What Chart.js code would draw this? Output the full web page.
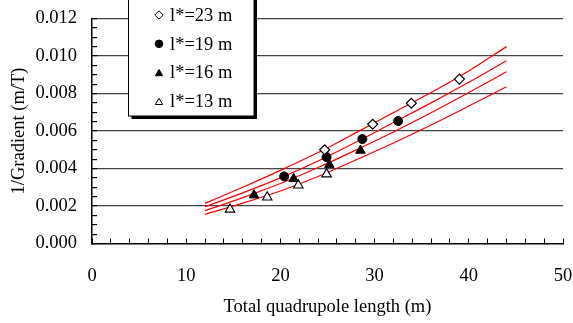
<!DOCTYPE html>
<html>
<head>
<meta charset="utf-8">
<script src="https://cdn.jsdelivr.net/npm/chart.js@4"></script>
<style>
  body { margin: 0; background: #fff; }
  canvas { display: block; }
</style>
</head>
<body>
<canvas id="myChart" width="573" height="323"></canvas>
<script>
// measured points (m, m/T)
const labels = ['l*=23 m', 'l*=19 m', 'l*=16 m', 'l*=13 m'];
const x23 = [24.7, 29.8, 33.9, 39.0];
const y23 = [0.00500, 0.00636, 0.00748, 0.00877];
const x19 = [20.4, 24.9, 28.7, 32.5];
const y19 = [0.00358, 0.00461, 0.00557, 0.00653];
const x16 = [17.2, 21.4, 25.2, 28.5];
const y16 = [0.00258, 0.00345, 0.00420, 0.00496];
const x13 = [14.65, 18.6, 21.9, 24.9];
const y13 = [0.00182, 0.00247, 0.00311, 0.00370];

// fitted curves (red)
const curveX = [12, 16, 20, 24, 28, 32, 36, 40, 44];
const curve23 = [0.00214, 0.00300, 0.00390, 0.00485, 0.00590, 0.00698, 0.00805, 0.00920, 0.01050];
const curve19 = [0.00196, 0.00270, 0.00350, 0.00440, 0.00540, 0.00645, 0.00750, 0.00860, 0.00975];
const curve16 = [0.00175, 0.00245, 0.00320, 0.00405, 0.00498, 0.00595, 0.00697, 0.00805, 0.00916];
const curve13 = [0.00156, 0.00215, 0.00280, 0.00357, 0.00445, 0.00536, 0.00632, 0.00733, 0.00836];

const FONT = "'Liberation Serif', 'Times New Roman', serif";

function pts(xs, ys) {
  return xs.map((x, i) => ({ x: x, y: ys[i] }));
}

function curve(ys) {
  return {
    data: pts(curveX, ys),
    showLine: true,
    borderColor: '#ff0000',
    borderWidth: 1.2,
    pointRadius: 0,
    tension: 0.4,
    cubicInterpolationMode: 'monotone',
    fill: false
  };
}

const markers = [
  { label: labels[0], data: pts(x23, y23), pointStyle: 'rectRot', pointRadius: 5, backgroundColor: '#fff', borderColor: '#000', borderWidth: 1.2 },
  { label: labels[1], data: pts(x19, y19), pointStyle: 'circle', pointRadius: 4.5, backgroundColor: '#000', borderColor: '#000', borderWidth: 1 },
  { label: labels[2], data: pts(x16, y16), pointStyle: 'triangle', pointRadius: 5.5, backgroundColor: '#000', borderColor: '#000', borderWidth: 1 },
  { label: labels[3], data: pts(x13, y13), pointStyle: 'triangle', pointRadius: 5.5, backgroundColor: '#fff', borderColor: '#000', borderWidth: 1.1 }
];
markers.forEach(m => { m.showLine = false; });

const isMajorY = v => Math.round(v / 0.0005) % 4 === 0;

// boxed legend with drop shadow, drawn inside the plot
const boxLegend = {
  id: 'boxLegend',
  afterDraw(chart) {
    const ctx = chart.ctx;
    const left = 128.5, right = 254, top = -5, bottom = 116;
    ctx.save();
    ctx.fillStyle = '#000';
    ctx.fillRect(left + 3, top + 3, right - left, bottom - top);
    ctx.fillStyle = '#fff';
    ctx.fillRect(left, top, right - left, bottom - top);
    ctx.strokeStyle = '#000';
    ctx.lineWidth = 1;
    ctx.strokeRect(left, top, right - left, bottom - top);
    ctx.font = '18.5px ' + FONT;
    ctx.textBaseline = 'middle';
    markers.forEach((m, i) => {
      const y = 15 + i * 28.8;
      ctx.fillStyle = m.backgroundColor;
      ctx.strokeStyle = m.borderColor;
      ctx.lineWidth = 1;
      Chart.helpers.drawPoint(ctx, { pointStyle: m.pointStyle, radius: m.pointStyle === 'circle' ? 3.8 : 4.2, rotation: 0, borderWidth: 1 }, 159, y + (m.pointStyle === 'triangle' ? 1 : 0));
      ctx.fillStyle = '#000';
      ctx.fillText(m.label, 170, y + 1);
    });
    ctx.restore();
  }
};

new Chart(document.getElementById('myChart'), {
  type: 'scatter',
  data: {
    datasets: [...markers, curve(curve23), curve(curve19), curve(curve16), curve(curve13)]
  },
  options: {
    responsive: false,
    animation: false,
    devicePixelRatio: 1,
    layout: { padding: 0 },
    plugins: { legend: { display: false }, tooltip: { enabled: false } },
    scales: {
      x: {
        type: 'linear',
        min: 0, max: 50,
        border: { color: '#000', width: 1.5 },
        grid: { drawOnChartArea: false, tickColor: '#000', tickLength: -5, lineWidth: 1 },
        ticks: {
          stepSize: 2, autoSkip: false, maxRotation: 0, padding: 27,
          color: '#000', font: { family: FONT, size: 18.5 },
          callback: v => (Math.round(v) % 10 === 0 ? String(Math.round(v)) : '')
        },
        title: { display: true, text: 'Total quadrupole length (m)', color: '#000', font: { family: FONT, size: 18.5 }, padding: { top: 0, bottom: 5 } },
        afterFit: s => { s.height = 79.5; s.paddingLeft = 0; s.paddingRight = 10; }
      },
      y: {
        type: 'linear',
        min: 0, max: 0.012,
        border: { color: '#000', width: 1.5 },
        grid: {
          color: c => (c.tick && isMajorY(c.tick.value) && c.tick.value > 0 ? '#444' : 'rgba(0,0,0,0)'),
          lineWidth: 1.2,
          tickColor: '#000', tickLength: -5
        },
        ticks: {
          stepSize: 0.0005, autoSkip: false, padding: 20,
          color: '#000', font: { family: FONT, size: 18.5 },
          callback: v => (isMajorY(v) ? v.toFixed(3) : '')
        },
        title: { display: true, text: '1/Gradient (m/T)', color: '#000', font: { family: FONT, size: 18.5 }, padding: { top: 8, bottom: 0 } },
        afterFit: s => { s.width = 92; s.paddingTop = 18.5; s.paddingBottom = 0; }
      }
    }
  },
  plugins: [boxLegend]
});
</script>
</body>
</html>
